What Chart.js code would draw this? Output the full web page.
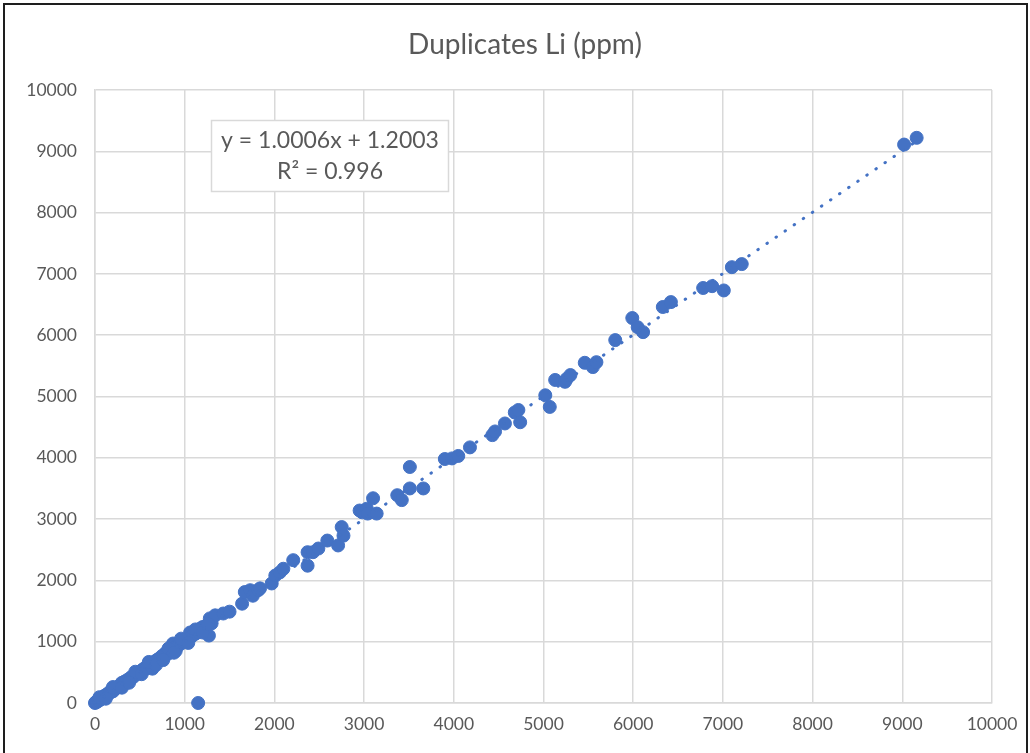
<!DOCTYPE html>
<html>
<head>
<meta charset="utf-8">
<script src="https://cdn.jsdelivr.net/npm/chart.js@4"></script>
<style>
  html, body { margin: 0; padding: 0; background: #fff; overflow: hidden; }
  #wrap { position: absolute; left: 0; top: 0; width: 1030px; height: 753px; }
  #frame { position: absolute; left: 3px; top: 3px; width: 1021px; height: 790px; border: 2px solid #1e1e1e; }
</style>
</head>
<body>
<div id="frame"></div>
<div id="wrap"><canvas id="dupChart" width="1030" height="753"></canvas></div>
<script>
// original assay (ppm)
const original = [
    0, 8, 15, 22, 30, 38, 45, 55, 62, 70, 80, 90, 100, 110, 120, 135, 150, 160, 175, 190,
    200, 215, 230, 245, 260, 275, 290, 300, 315, 330, 345, 360, 380, 395, 410, 425, 440, 460, 475, 490,
    510, 530, 545, 560, 575, 590, 610, 640, 650, 670, 690, 710, 730, 750, 770, 790, 810, 830, 850, 870,
    880, 900, 910, 930, 950, 970, 990, 1010, 1030, 1050, 1060, 1080, 1100, 1120, 1150, 1170, 1190, 1200, 1210, 1240,
    1270, 1280, 1300, 1340, 1430, 1500, 1150,
    50, 120, 200, 300, 380, 450, 520, 600, 680, 760, 820, 880, 960, 1040, 1120, 1200, 1260,
    1640, 1670, 1730, 1760, 1820, 1840, 1970, 2010, 2060, 2100, 2210, 2370, 2370, 2430, 2490, 2590, 2710, 2750, 2770,
    2950, 2980, 3030, 3040, 3100, 3140, 3370, 3420, 3510, 3510, 3660, 3900, 3980, 4050, 4180,
    4430, 4460, 4570, 4680, 4720, 4740, 5020, 5070, 5130, 5240, 5260, 5300, 5460, 5550, 5590,
    5800, 5990, 6050, 6110, 6330, 6420, 6780, 6880, 7010, 7100, 7210, 9020, 9160
];
// duplicate assay (ppm)
const duplicate = [
    0, 12, 20, 18, 35, 45, 40, 60, 70, 65, 85, 95, 110, 100, 130, 140, 145, 175, 180, 200,
    190, 225, 240, 250, 270, 265, 300, 330, 320, 350, 340, 375, 390, 400, 430, 420, 455, 470, 480, 505,
    520, 540, 560, 550, 590, 600, 620, 560, 660, 680, 700, 720, 735, 770, 780, 820, 800, 850, 860, 970,
    900, 850, 920, 950, 960, 990, 1000, 1020, 1050, 1060, 1150, 1090, 1120, 1130, 1160, 1210, 1190, 1240, 1230, 1250,
    1100, 1380, 1300, 1430, 1460, 1490, 0,
    95, 70, 260, 250, 330, 510, 470, 670, 620, 700, 890, 820, 1050, 980, 1200, 1150, 1290,
    1620, 1810, 1840, 1750, 1840, 1870, 1950, 2080, 2130, 2190, 2330, 2240, 2460, 2460, 2520, 2650, 2570, 2870, 2730,
    3140, 3110, 3170, 3090, 3340, 3090, 3390, 3310, 3500, 3850, 3500, 3980, 3990, 4030, 4170,
    4370, 4430, 4560, 4740, 4780, 4580, 5020, 4830, 5270, 5240, 5290, 5350, 5550, 5480, 5560,
    5920, 6280, 6130, 6050, 6460, 6540, 6770, 6800, 6730, 7110, 7160, 9110, 9220
];
// linear trendline reported by the spreadsheet
const slope = 1.0006;
const intercept = 1.2003;
const chartTitle = "Duplicates Li (ppm)";
const eqLines = ["y = 1.0006x + 1.2003", "R\u00B2 = 0.996"];
const axisTicks = [0, 1000, 2000, 3000, 4000, 5000, 6000, 7000, 8000, 9000, 10000];

const points = original.map((x, i) => ({ x: x, y: duplicate[i] }));
const xMin = Math.min(...original), xMax = Math.max(...original);
const trend = [xMin, xMax].map(x => ({ x: x, y: slope * x + intercept }));

const font = "Lato, 'Open Sans', sans-serif";
const textColor = '#595959';
const gridColor = '#d9d9d9';

// title + equation label box, drawn like the spreadsheet places them
const labels = {
    id: 'labels',
    afterDraw(chart) {
        const ctx = chart.ctx;
        ctx.save();
        ctx.fillStyle = textColor;
        ctx.textAlign = 'center';
        ctx.textBaseline = 'middle';
        ctx.font = "28px " + font;
        ctx.fillText(chartTitle, 525, 45);

        ctx.fillStyle = '#fff';
        ctx.fillRect(211, 120, 237, 71);
        ctx.strokeStyle = gridColor;
        ctx.lineWidth = 1.5;
        ctx.strokeRect(211.5, 120.5, 237, 71);
        ctx.fillStyle = textColor;
        ctx.font = "23px " + font;
        ctx.fillText(eqLines[0], 330, 141);
        ctx.fillText(eqLines[1], 330, 172);
        ctx.restore();
    }
};

new Chart(document.getElementById('dupChart'), {
    type: 'scatter',
    data: {
        datasets: [
            {
                type: 'line', label: 'Linear', data: trend, order: 0,
                borderColor: '#4472C4', borderWidth: 3, borderDash: [0.5, 10.5], borderCapStyle: 'round',
                pointRadius: 0, fill: false
            },
            {
                label: 'Li', data: points, order: 1, clip: false,
                backgroundColor: '#4472C4', borderColor: '#4472C4', borderWidth: 1,
                pointRadius: 6.5, pointHoverRadius: 6.5
            }
        ]
    },
    options: {
        responsive: false,
        animation: false,
        events: [],
        layout: { padding: { left: 0, right: 38, top: 90, bottom: 0 } },
        plugins: {
            legend: { display: false },
            tooltip: { enabled: false },
            title: { display: false }
        },
        scales: {
            x: {
                type: 'linear', min: 0, max: 10000,
                afterBuildTicks: s => { s.ticks = axisTicks.map(v => ({ value: v })); },
                afterFit: s => { s.height = 50; },
                grid: { color: gridColor, lineWidth: 1.5, drawTicks: false },
                border: { color: gridColor, width: 1.5 },
                ticks: { color: textColor, padding: 11, font: { family: font, size: 17.5 }, maxRotation: 0,
                         callback: v => String(v) }
            },
            y: {
                type: 'linear', min: 0, max: 10000,
                afterBuildTicks: s => { s.ticks = axisTicks.map(v => ({ value: v })); },
                afterFit: s => { s.width = 95; },
                grid: { color: gridColor, lineWidth: 1.5, drawTicks: false },
                border: { color: gridColor, width: 1.5 },
                ticks: { color: textColor, padding: 18, font: { family: font, size: 17.5 },
                         callback: v => String(v) }
            }
        }
    },
    plugins: [labels]
});
</script>
</body>
</html>
